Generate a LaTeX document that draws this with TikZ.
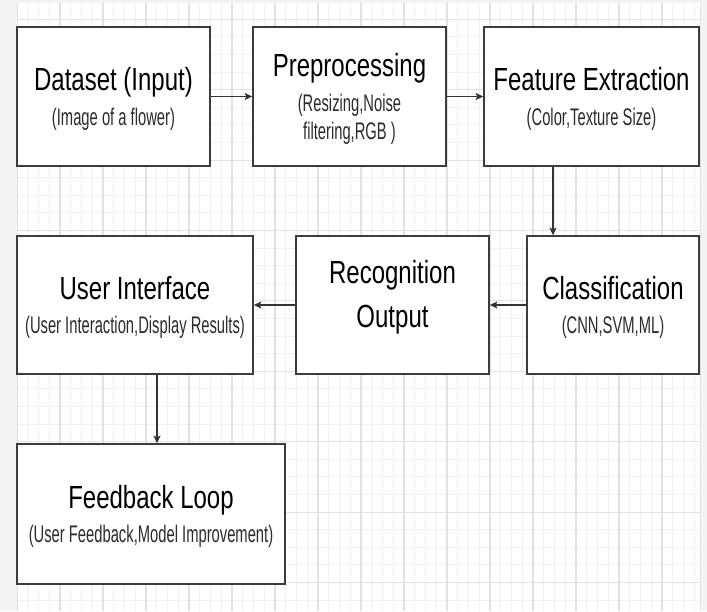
\documentclass[tikz,border=0pt]{standalone}
\usepackage{fontspec}
\usepackage{xcolor}
\usepackage{tikz}
\usetikzlibrary{arrows.meta}
\newfontfamily\titlefont[FakeStretch=0.75]{Liberation Sans}
\newfontfamily\subfont[FakeStretch=0.615]{Liberation Sans}
\definecolor{edgec}{HTML}{3C3C3C}
\definecolor{linec}{HTML}{333333}
\definecolor{subc}{HTML}{2B2B2B}
\definecolor{gridmin}{HTML}{F1F1F1}
\definecolor{gridmaj}{HTML}{E1E1E1}
\definecolor{outbg}{HTML}{F3F3F3}
\tikzset{
  ar/.style={-{Stealth[length=7.5pt,width=7pt,inset=1.5pt]},line width=1.6pt,linec},
  box/.style={draw=edgec,line width=1.6pt,fill=white,align=center,inner sep=0pt,text depth=0pt,
    font=\titlefont\fontsize{32}{27.7}\selectfont}
}
\newcommand{\subt}[1]{{\subfont\fontsize{24}{27.7}\selectfont\color{subc}#1}}

\begin{document}
\begin{tikzpicture}[x=1pt,y=-1pt]
\useasboundingbox (0,0) rectangle (707,611);
\fill[outbg] (0,0) rectangle (707,611);
\fill[white] (17,3) rectangle (700,611);
\begin{scope}
\clip (17,3) rectangle (700,611);
\foreach \i in {0,...,63} \draw[gridmin,line width=0.9pt] ({17+10.75*\i},3) -- ++(0,608);
\foreach \j in {0,...,34} \draw[gridmin,line width=0.9pt] (17,{1.7+17.6*\j}) -- ++(683,0);
\foreach \i in {0,...,15} \draw[gridmaj,line width=1.1pt] ({17+43*\i},3) -- ++(0,608);
\foreach \j in {0,...,8} \draw[gridmaj,line width=1.1pt] (17,{19.3+70.4*\j}) -- ++(683,0);
\end{scope}
\draw[gridmaj,line width=1pt] (700,3) -- (700,611);

\node[box,minimum width=193,minimum height=139] (ds) at (113.5,96.5)
  {Dataset (Input)\\[7pt]\subt{(Image of a flower)}};
\node[box,minimum width=193,minimum height=139] (pre) at (349.5,96.5)
  {Preprocessing\\[7pt]\subt{(Resizing,Noise}\\\subt{filtering,RGB )}};
\node[box,minimum width=215,minimum height=139] (fe) at (591.5,96.5)
  {Feature Extraction\\[7pt]\subt{(Color,Texture Size)}};
\node[box,minimum width=236,minimum height=138] (ui) at (135,305)
  {User Interface\\[7pt]\subt{(User Interaction,Display Results)}};
\node[box,minimum width=193,minimum height=138,text depth=23pt,
  font=\titlefont\fontsize{32}{44}\selectfont] (rec) at (392.5,305)
  {Recognition\\Output};
\node[box,minimum width=172,minimum height=138] (cls) at (613,305)
  {Classification\\[7pt]\subt{(CNN,SVM,ML)}};
\node[box,minimum width=268,minimum height=140] (fb) at (151,514)
  {Feedback Loop\\[7pt]\subt{(User Feedback,Model Improvement)}};

\draw[ar] (ds) -- (pre);
\draw[ar] (pre) -- (fe);
\draw[ar] ([xshift=-38.5]fe.south) -- ([xshift=-38.5]fe.south |- cls.north);
\draw[ar] (cls) -- (rec);
\draw[ar] (rec) -- (ui);
\draw[ar] ([xshift=22]ui.south) -- ([xshift=22]ui.south |- fb.north);
\end{tikzpicture}
\end{document}
